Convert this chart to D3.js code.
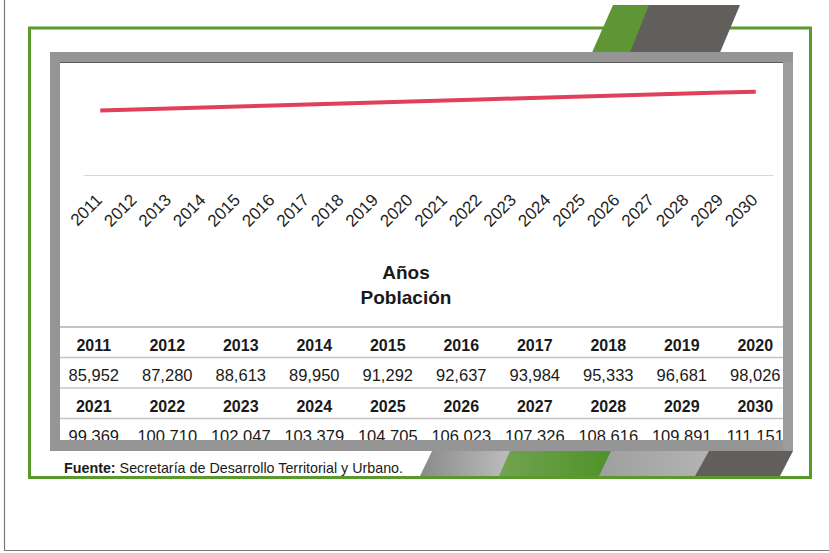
<!DOCTYPE html>
<html><head><meta charset="utf-8">
<script src="https://cdn.jsdelivr.net/npm/d3@7"></script>
<style>html,body{margin:0;padding:0;background:#fff;}svg{display:block;}</style>
</head><body>
<svg id="c" width="829" height="553"></svg>
<script>
const years = ["2011","2012","2013","2014","2015","2016","2017","2018","2019","2020",
               "2021","2022","2023","2024","2025","2026","2027","2028","2029","2030"];
const population = [85952,87280,88613,89950,91292,92637,93984,95333,96681,98026,
                    99369,100710,102047,103379,104705,106023,107326,108616,109891,111151];
const axisTitle = "Años";
const seriesName = "Población";
const sourceBold = "Fuente:";
const sourceText = " Secretaría de Desarrollo Territorial y Urbano.";

const FONT = "'Liberation Sans', Arial, sans-serif";
const svg = d3.select("#c");

// outer page lines
svg.append("line").attr("x1",4.5).attr("x2",4.5).attr("y1",0).attr("y2",551).attr("stroke","#7a7a7a").attr("stroke-width",1.2);
svg.append("line").attr("x1",4).attr("x2",829).attr("y1",550.5).attr("y2",550.5).attr("stroke","#7a7a7a").attr("stroke-width",1.2);

// green frame
svg.append("rect").attr("x",29.5).attr("y",28).attr("width",781).attr("height",449.5)
  .attr("fill","#fff").attr("stroke","#5a9a2c").attr("stroke-width",3);

// top decorations
svg.append("path").attr("d","M613,5 L650,5 L631,52.5 L592,52.5 Z").attr("fill","#5e9636");
svg.append("path").attr("d","M649,5 L740,5 L720,52.5 L630,52.5 Z").attr("fill","#625e5c");

// inner white panel
svg.append("rect").attr("x",60).attr("y",62).attr("width",723).attr("height",378).attr("fill","#fff");

// scales
const x = d3.scaleBand().domain(years).range([83,773]);
const y = d3.scaleLinear().domain([0,140000]).range([175,70]);

// axis baseline
const xAxis = d3.axisBottom(x).tickSize(0).tickPadding(0);
const gx = svg.append("g").attr("transform","translate(0,175)").call(xAxis);
gx.select(".domain").attr("stroke","#d9d9d9").attr("stroke-width",1.2);
gx.selectAll(".tick text")
  .attr("font-family",FONT).attr("font-size",17).attr("fill","#1f1f1f")
  .attr("text-anchor","end").attr("dy",0).attr("y",0)
  .attr("transform","translate(3,26) rotate(-45)");

// line
const line = d3.line().x((d,i)=>x(years[i])+x.bandwidth()/2).y(d=>y(d));
svg.append("path").datum(population).attr("d",line)
  .attr("fill","none").attr("stroke","#e0405a").attr("stroke-width",4).attr("stroke-linecap","butt");

// titles
svg.append("text").attr("x",406).attr("y",279).attr("text-anchor","middle")
  .attr("font-family",FONT).attr("font-weight","bold").attr("font-size",19).attr("fill","#1a1a1a").text(axisTitle);
svg.append("text").attr("x",406).attr("y",303.5).attr("text-anchor","middle")
  .attr("font-family",FONT).attr("font-weight","bold").attr("font-size",19).attr("fill","#1a1a1a").text(seriesName);

// data table
const fmt = d3.format(",");
const cols = d3.scaleBand().domain(d3.range(10)).range([57,792]);
const rowLines = [327,357.5,388,418.5];
rowLines.forEach(v=>{
  svg.append("line").attr("x1",60).attr("x2",783).attr("y1",v).attr("y2",v)
    .attr("stroke", v===327 ? "#b0b0b0" : "#c4c4c4").attr("stroke-width",1.6);
});
const blocks = [
  {yrs: years.slice(0,10), vals: population.slice(0,10), hy: 350.5, vy: 381},
  {yrs: years.slice(10,20), vals: population.slice(10,20), hy: 412, vy: 442}
];
blocks.forEach(b=>{
  svg.append("g").selectAll("text").data(b.yrs).join("text")
    .attr("x",(d,i)=>cols(i)+cols.bandwidth()/2).attr("y",b.hy).attr("text-anchor","middle")
    .attr("font-family",FONT).attr("font-weight","bold").attr("font-size",16).attr("fill","#1a1a1a").text(d=>d);
  svg.append("g").selectAll("text").data(b.vals).join("text")
    .attr("x",(d,i)=>cols(i)+cols.bandwidth()/2).attr("y",b.vy).attr("text-anchor","middle")
    .attr("font-family",FONT).attr("font-size",16.5).attr("fill","#1a1a1a").text(d=>fmt(d));
});

// gray frame on top (clips table)
svg.append("path")
  .attr("d","M50,52 H793 V451 H50 Z M60,62.5 V440 H783 V62.5 Z")
  .attr("fill","#959595").attr("fill-rule","evenodd");
svg.append("line").attr("x1",60).attr("x2",783).attr("y1",62.5).attr("y2",62.5).attr("stroke","#5a5a5a").attr("stroke-width",1);
svg.append("rect").attr("x",783).attr("y",62).attr("width",10).attr("height",389).attr("fill","#9c9c9c");

// bottom decorations
const defs = svg.append("defs");
function grad(id, c1, c2){
  const g = defs.append("linearGradient").attr("id",id).attr("x1","0%").attr("x2","100%");
  g.append("stop").attr("offset","0%").attr("stop-color",c1);
  g.append("stop").attr("offset","100%").attr("stop-color",c2);
}
grad("g1","#8a8a8a","#bdbdbd");
grad("g2","#72a352","#4e9226");
grad("g3","#9f9f9f","#b3b3b3");
svg.append("path").attr("d","M432,451 L511,451 L500,476 L420,476 Z").attr("fill","url(#g1)");
svg.append("path").attr("d","M510,451 L612,451 L600,476 L499,476 Z").attr("fill","url(#g2)");
svg.append("path").attr("d","M611,451 L710,451 L696,476 L599,476 Z").attr("fill","url(#g3)");
svg.append("path").attr("d","M709,451 L793,451 L780,476 L695,476 Z").attr("fill","#625e5c");

// source
const src = svg.append("text").attr("x",64).attr("y",473).attr("font-family",FONT).attr("font-size",14.3).attr("fill","#1a1a1a");
src.append("tspan").attr("font-weight","bold").text(sourceBold);
src.append("tspan").text(sourceText);
</script>
</body></html>
